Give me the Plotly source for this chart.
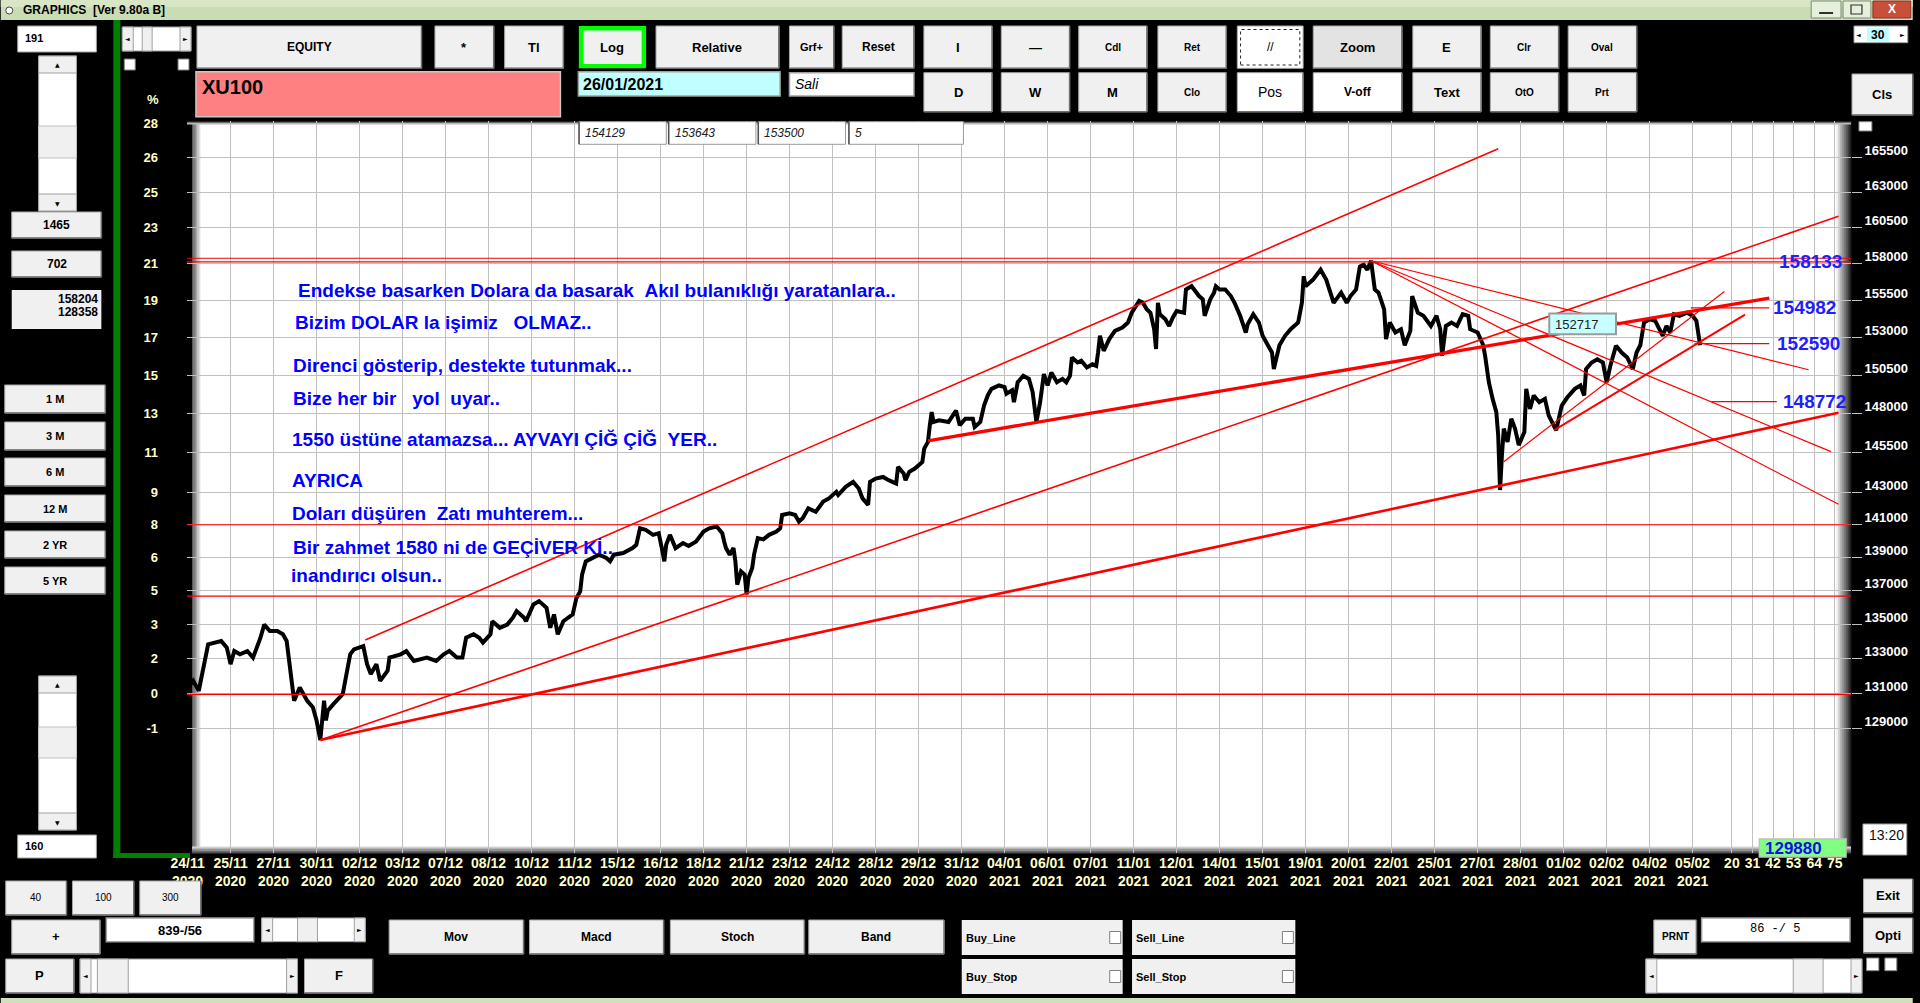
import math
import plotly.graph_objects as go

# ---------------- values ----------------
# bar index (23 bars between date labels) and XU100 price at that bar
PRICE_BAR = [0, 3, 6, 9, 11, 18, 21, 23, 25, 28, 32, 35, 39, 41, 44, 48, 51, 53, 55, 56,
             57, 60, 64, 67, 69, 71, 73, 74, 75, 78, 83, 85, 87, 89, 94, 96, 98, 101, 103, 107,
             108, 114, 117, 121, 124, 128, 133, 137, 140, 144, 147, 149, 153, 156, 158, 162, 163, 167, 171, 174,
             176, 180, 181, 185, 188, 192, 194, 196, 198, 201, 206, 208, 210, 211, 213, 217, 220, 224, 226, 228,
             233, 238, 240, 242, 245, 249, 252, 254, 255, 256, 258, 261, 265, 268, 272, 276, 279, 283, 286, 287,
             288, 290, 292, 293, 294, 296, 298, 299, 300, 302, 303, 305, 308, 311, 315, 317, 318, 322, 325, 327,
             329, 332, 336, 340, 343, 347, 348, 352, 356, 359, 361, 364, 365, 368, 372, 375, 379, 380, 383, 384,
             386, 389, 393, 394, 396, 397, 398, 399, 402, 407, 411, 413, 416, 420, 421, 424, 426, 428, 430, 434,
             437, 438, 441, 442, 444, 447, 450, 452, 453, 454, 456, 458, 460, 462, 465, 468, 470, 472, 473, 476,
             478, 481, 484, 486, 487, 488, 490, 493, 496, 500, 503, 505, 509, 511, 513, 515, 517, 518, 519, 520,
             523, 525, 527, 529, 533, 534, 537, 541, 543, 544, 547, 549, 550, 552, 555, 558, 560, 563, 566, 567,
             570, 573, 575, 578, 580, 581, 584, 587, 590, 594, 596, 597, 598, 602, 606, 609, 612, 613, 617, 620,
             622, 625, 627, 629, 631, 633, 635, 637, 640, 641, 643, 646, 649, 651, 654, 655, 658, 661, 665, 668,
             670, 671, 673, 676, 679, 682, 685, 686, 690, 693, 694, 696, 698, 700, 701, 702, 703, 704, 706, 708,
             710, 712, 715, 716, 718, 720, 723, 726, 728, 732, 735, 738, 742, 745, 747, 748, 751, 754, 757, 759,
             761, 764, 767, 770, 773, 775, 777, 779, 782, 785, 789, 791, 793, 795, 798, 802, 805, 807, 809]
PRICE_VAL = [131340, 131720, 131150, 132680, 133830, 134030, 133640, 132680, 133440, 133250,
             133440, 133060, 134220, 134990, 134610, 134610, 134420, 134030, 132490, 131530,
             130580, 131340, 130580, 130210, 129460, 128358, 130580, 129460, 130020, 130390,
             130960, 132110, 133250, 133540, 133730, 132680, 132110, 132680, 131720, 132300,
             133060, 133250, 133440, 132870, 132950, 133060, 132870, 133250, 133440, 133060,
             133060, 134220, 134420, 134220, 133930, 134420, 135190, 134800, 134990, 135400,
             135790, 135400, 135190, 136180, 136380, 135980, 134800, 135590, 134420, 135190,
             135590, 136570, 136960, 137960, 138760, 138970, 139170, 138970, 138770, 139170,
             139270, 139570, 139770, 140780, 140680, 140380, 140480, 139370, 138770, 139770,
             140380, 139570, 139880, 139700, 139970, 140580, 140780, 140890, 140480, 139970,
             139570, 139170, 139570, 138770, 137360, 138160, 137960, 136780, 137760, 138360,
             139170, 140180, 140100, 140380, 140580, 140780, 141600, 141700, 141600, 141190,
             141400, 142010, 141800, 142430, 142630, 143040, 142840, 143350, 143660, 143250,
             142630, 142230, 143660, 143870, 143970, 143770, 143560, 144600, 144190, 143770,
             144290, 144500, 144910, 145760, 146190, 147250, 148100, 147460, 147570, 147460,
             148200, 147250, 147670, 147670, 147140, 147460, 148520, 149180, 149610, 149830,
             149720, 149290, 149510, 148740, 150040, 150470, 150260, 149400, 148520, 147460,
             148740, 150580, 149830, 150680, 150040, 150260, 150040, 150470, 151670, 151340,
             151450, 151010, 151220, 151120, 152000, 153110, 152110, 152890, 153440, 153660,
             154000, 154660, 155460, 155330, 154890, 154660, 153550, 152230, 155330, 154560,
             154220, 153770, 154340, 154780, 154660, 156240, 156460, 155790, 155570, 154450,
             155570, 156020, 156460, 156240, 156240, 155790, 155330, 154450, 153330, 153880,
             154560, 154000, 153110, 152450, 152000, 150910, 152480, 153110, 153550, 154000,
             155330, 157140, 156460, 156910, 157590, 156910, 155790, 155330, 156020, 155330,
             155790, 156240, 157810, 157930, 157590, 158204, 156240, 156020, 154890, 152890,
             154000, 153330, 153550, 152480, 153440, 155790, 154660, 154450, 153770, 154450,
             153550, 151780, 153770, 154000, 153770, 154560, 154450, 153550, 153330, 152480,
             151780, 150040, 148960, 148100, 146610, 143150, 145340, 147040, 146190, 147670,
             147040, 145980, 146820, 149610, 148300, 149180, 148740, 148960, 147890, 146930,
             148520, 149060, 149610, 149830, 149180, 150910, 151340, 151550, 151340, 150040,
             151120, 152450, 152000, 151670, 150910, 152000, 152480, 154000, 154220, 154110,
             153110, 153770, 153330, 154560, 154450, 154660, 154450, 154110, 152480]

DATE_LABELS = ["24/11<br>2020", "25/11<br>2020", "27/11<br>2020", "30/11<br>2020", "02/12<br>2020",
               "03/12<br>2020", "07/12<br>2020", "08/12<br>2020", "10/12<br>2020", "11/12<br>2020",
               "15/12<br>2020", "16/12<br>2020", "18/12<br>2020", "21/12<br>2020", "23/12<br>2020",
               "24/12<br>2020", "28/12<br>2020", "29/12<br>2020", "31/12<br>2020", "04/01<br>2021",
               "06/01<br>2021", "07/01<br>2021", "11/01<br>2021", "12/01<br>2021", "14/01<br>2021",
               "15/01<br>2021", "19/01<br>2021", "20/01<br>2021", "22/01<br>2021", "25/01<br>2021",
               "27/01<br>2021", "28/01<br>2021", "01/02<br>2021", "02/02<br>2021", "04/02<br>2021",
               "05/02<br>2021"]
DATE_STEP = 23                      # bars between two date labels
FUTURE_LABELS = [20, 31, 42, 53, 64, 75]  # bars ahead of the current bar
FUTURE_BASE = 806

PRICE_TICKS = [165500, 163000, 160500, 158000, 155500, 153000, 150500, 148000, 145500,
               143000, 141000, 139000, 137000, 135000, 133000, 131000, 129000]
PCT_TICK_PRICES = [168000] + PRICE_TICKS
PCT_LABELS = ["28", "26", "25", "23", "21", "19", "17", "15", "13", "11", "9", "8", "6", "5",
              "3", "2", "0", "-1"]

# horizontal levels across the chart
LEVELS = [130940, 136680, 141000, 158133, 158380]
# trend lines: bar0, price0, bar1, price1
TRENDS = [
    (95, 134080, 701, 166130),
    (71, 128358, 883, 161300),
    (71, 128358, 883, 148060),
    (396, 146260, 846, 155650),
    (633, 158204, 867, 150860),
    (633, 158204, 879, 145570),
    (633, 158204, 883, 142260),
    (704, 144930, 822, 156100),
    (731, 146940, 833, 154530),
]
# short marked levels: price, from bar, to bar
MARKS = [(154982, 804, 846), (152590, 806, 846), (148772, 815, 850)]
# blue level labels: price, bar of the label's left edge
MARK_LABELS = [(158133, 850), (154982, 847), (152590, 849), (148772, 852)]

NOTES = ["Endekse basarken Dolara da basarak  Akıl bulanıklığı yaratanlara..",
         "Bizim DOLAR la işimiz   OLMAZ..",
         "Direnci gösterip, destekte tutunmak...",
         "Bize her bir   yol  uyar..",
         "1550 üstüne atamazsa... AYVAYI ÇİĞ ÇİĞ  YER..",
         "AYRICA",
         "Doları düşüren  Zatı muhterem...",
         "Bir zahmet 1580 ni de GEÇİVER Kİ..",
         "inandırıcı olsun.."]
TOP_BOXES = ["154129", "153643", "153500", "5"]
CURSOR_PRICE = "152717"

# ---------------- layout helpers (pixel -> paper) ----------------
W, H = 1920, 1003
PL, PR, PT, PB = 187, 1858, 121, 853
FONT = "Liberation Sans, Arial, sans-serif"
CREAM = "#ffffc8"


def px(x):
    return (x - PL) / (PR - PL)


def py(y):
    return (PB - y) / (PB - PT)


def nb(s):
    return s.replace("  ", " \u00a0")


shapes = []
annots = []


def rect(x0, y0, x1, y1, fill, line=None, lw=1, dash=None, layer="above"):
    shapes.append(dict(type="rect", xref="paper", yref="paper",
                       x0=px(x0), x1=px(x1), y0=py(y1), y1=py(y0),
                       fillcolor=fill, layer=layer,
                       line=dict(color=line if line else fill, width=lw if line else 0,
                                 dash=dash)))


def seg(x0, y0, x1, y1, color, lw=1):
    shapes.append(dict(type="line", xref="paper", yref="paper",
                       x0=px(x0), x1=px(x1), y0=py(y0), y1=py(y1),
                       line=dict(color=color, width=lw), layer="above"))


def text(x, y, s, size=12, color="black", weight="bold", anchor="center", style="normal", family=FONT):
    annots.append(dict(xref="paper", yref="paper", x=px(x), y=py(y), text=s, showarrow=False,
                       xanchor=anchor, yanchor="middle",
                       font=dict(family=family, size=size, color=color, weight=weight, style=style)))


def button(x0, y0, x1, y1, s="", fill="#f0f0f0", size=12, weight="bold", anchor="center"):
    rect(x0, y0, x1, y1, fill, "#a8a8a8", 1)
    seg(x0, y1, x1, y1, "#6e6e6e", 1.5)
    seg(x1, y0, x1, y1, "#6e6e6e", 1.5)
    if s:
        if anchor == "left":
            text(x0 + 3, (y0 + y1) / 2, s, size, weight=weight, anchor="left")
        else:
            text((x0 + x1) / 2, (y0 + y1) / 2, s, size, weight=weight)


def checkbox(x0, y0, x1, y1):
    rect(x0, y0, x1, y1, "white", "#808080", 1)


def hscroll(x0, y0, x1, y1, t0, t1):
    rect(x0, y0, x1, y1, "white", "#a0a0a0", 1)
    rect(x0, y0, x0 + 11, y1, "#f0f0f0", "#a0a0a0", 1)
    rect(x1 - 11, y0, x1, y1, "#f0f0f0", "#a0a0a0", 1)
    rect(t0, y0, t1, y1, "#f0f0f0", "#a0a0a0", 1)
    text(x0 + 5.5, (y0 + y1) / 2, "◄", 6, family="DejaVu Sans")
    text(x1 - 5.5, (y0 + y1) / 2, "►", 6, family="DejaVu Sans")


def vscroll(x0, y0, x1, y1, t0, t1):
    rect(x0, y0, x1, y1, "white", "#a0a0a0", 1)
    rect(x0, y0, x1, y0 + 17, "#f0f0f0", "#a0a0a0", 1)
    rect(x0, y1 - 17, x1, y1, "#f0f0f0", "#a0a0a0", 1)
    rect(x0, t0, x1, t1, "#f0f0f0", "#c0c0c0", 1)
    text((x0 + x1) / 2, y0 + 8, "▲", 6, family="DejaVu Sans")
    text((x0 + x1) / 2, y1 - 8, "▼", 6, family="DejaVu Sans")


def mix(c0, c1, t):
    a = [int(c0[i:i + 2], 16) for i in (1, 3, 5)]
    b = [int(c1[i:i + 2], 16) for i in (1, 3, 5)]
    return "#%02x%02x%02x" % tuple(round(a[k] + (b[k] - a[k]) * t) for k in range(3))


def gradient(x0, y0, x1, y1, c0, c1, n, along_x=True):
    for k in range(n):
        t = k / max(n - 1, 1)
        if along_x:
            a, b = x0 + (x1 - x0) * k / n, x0 + (x1 - x0) * (k + 1) / n
            rect(a, y0, b + 0.4, y1, mix(c0, c1, t), layer="between")
        else:
            a, b = y0 + (y1 - y0) * k / n, y0 + (y1 - y0) * (k + 1) / n
            rect(x0, a, x1, b + 0.4, mix(c0, c1, t), layer="between")


# ---------------- figure ----------------
fig = go.Figure()

fig.add_trace(go.Scatter(x=PRICE_BAR, y=PRICE_VAL, mode="lines",
                         line=dict(color="black", width=4), hoverinfo="skip"))

trend_widths = [1.6, 1.6, 2.6, 3.3, 1.2, 1.2, 1.2, 1.2, 2.0]
for (b0, p0, b1, p1), w in zip(TRENDS, trend_widths):
    fig.add_trace(go.Scatter(x=[b0, b1], y=[p0, p1], mode="lines",
                             line=dict(color="#ff0000", width=w), hoverinfo="skip"))

for lv in LEVELS:
    fig.add_trace(go.Scatter(x=[-0.3, 889.7], y=[lv, lv], mode="lines",
                             line=dict(color="#ff0000", width=1.2), hoverinfo="skip"))

for p, b0, b1 in MARKS:
    fig.add_trace(go.Scatter(x=[b0, b1], y=[p, p], mode="lines",
                             line=dict(color="#ff0000", width=1.3), hoverinfo="skip"))

# carrier for the left percent axis
fig.add_trace(go.Scatter(x=[PRICE_BAR[0]], y=[PRICE_VAL[0]], yaxis="y2", mode="markers",
                         marker=dict(opacity=0), hoverinfo="skip"))

for p, b in MARK_LABELS:
    annots.append(dict(xref="x", yref="y", x=b, y=math.log10(p), text=str(p), showarrow=False,
                       xanchor="left", yanchor="middle",
                       font=dict(family=FONT, size=19, color="#1e1eff", weight="bold")))

# inner shading of the chart frame
rect(187, 121, 192.5, 853, "#000000", layer="between")
gradient(192, 121, 200, 853, "#5a5a5a", "#dcdcdc", 6)
gradient(1843, 121, 1858, 853, "#f2f2f2", "#202020", 8)
gradient(192, 846.5, 1858, 853, "#d8d8d8", "#505050", 5, along_x=False)
gradient(187, 121, 1858, 124, "#202020", "#b8b8b8", 3, along_x=False)

# blue comments
note_pos = [(296, 290), (293, 322), (291, 365), (291, 398), (290.5, 439),
            (290, 480), (290, 513), (291.7, 547), (289.3, 575)]
for s, (x, y) in zip(NOTES, note_pos):
    text(x, y, nb(s), 19, "#0000ff", anchor="left")

# value boxes on top of the chart
box_x = [(580.7, 668.3), (670.7, 758.3), (760.7, 848.3), (851.7, 966.7)]
for s, (x0, x1) in zip(TOP_BOXES, box_x):
    rect(x0, 121.7, x1, 144.3, "white", "#9a9a9a", 1)
    seg(x0, 121.7, x0, 144.3, "#505050", 1.5)
    text(x0 + 4, 133, s, 12, "#202020", weight="normal", anchor="left", style="italic")

rect(1555, 313.5, 1622, 334.3, "#c8ffff", "#9a9a9a", 2)
text(1559, 324, CURSOR_PRICE, 13, "#202020", weight="normal", anchor="left")

# ---------------- application frame ----------------
rect(0, 0, 1920, 20, "#cadcb4")
rect(0, 0, 1920, 7, "#d8e6c6")
shapes.append(dict(type="circle", xref="paper", yref="paper", x0=px(5), x1=px(12),
                   y0=py(14), y1=py(7), fillcolor="white", line=dict(color="#404040", width=1)))
text(20, 10, "GRAPHICS \u00a0[Ver 9.80a B]", 12, anchor="left")
rect(1818, 1, 1848, 18, "#e6eedc", "#7a8a70", 1)
seg(1826, 13, 1840, 13, "#303030", 2)
rect(1850, 1, 1878, 18, "#e6eedc", "#7a8a70", 1)
rect(1858, 5, 1869, 14, "#e6eedc", "#303030", 1.2)
rect(1880, 1, 1918, 18, "#c8503a", "#8a3020", 1)
text(1899, 9.5, "X", 12, "white")
rect(0, 998, 1920, 1003, "#cfe0bb")

# green separator
rect(113, 20, 120, 858, "#008000")
rect(113, 853, 190, 858, "#008000")

# left column
rect(17, 26, 96, 52, "white", "#a0a0a0", 1)
text(22, 38, "191", 11, anchor="left")
vscroll(38, 56, 76, 211, 126, 158)
button(11, 212, 101, 238, "1465")
button(11, 251, 101, 277, "702")
rect(11, 290, 101, 329, "#f0f0f0")
text(100, 299, "158204", 12, anchor="right")
text(100, 312, "128358", 12, anchor="right")
for s, (y0, y1) in zip(["1 M", "3 M", "6 M", "12 M", "2 YR", "5 YR"],
                       [(385, 413), (422, 450), (458, 486), (495, 522), (531, 558), (567, 594)]):
    button(4, y0, 105, y1, s, size=11)
vscroll(38, 676, 76, 830, 727, 758)
rect(17, 835, 96, 858, "white", "#a0a0a0", 1)
text(22, 846, "160", 11, anchor="left")

# top toolbar
hscroll(122, 27, 191, 51, 142, 152)
checkbox(124, 59, 135, 70)
checkbox(178, 59, 189, 70)
text(152.7, 99.4, "%", 13, CREAM)

row1 = [("EQUITY", 197, 422.5, 12), ("*", 436, 495, 13), ("Tl", 506, 565, 13),
        ("Relative", 658, 781.4, 13), ("Grf+", 792, 836.5, 11), ("Reset", 845, 917, 12),
        ("I", 927, 995.5, 13), ("—", 1004.7, 1073.3, 13), ("Cdl", 1082.5, 1151, 10),
        ("Ret", 1162, 1230.7, 10), ("E", 1418, 1486.6, 13), ("Clr", 1495.8, 1564.4, 10),
        ("Oval", 1574, 1642.8, 10)]
for s, x0, x1, fs in row1:
    button(x0, 26, x1, 68.3, s, size=fs)
rect(580.5, 26, 648, 68.3, "#00ff00")
rect(585, 30.5, 643.5, 64, "#f0f0f0")
text(614, 47, "Log", 13)
rect(1241.7, 26, 1307.8, 68.3, "white", "#a8a8a8", 1)
rect(1245, 29.5, 1304.5, 65, "white", "#202020", 1, dash="dot")
text(1274.7, 47, "//", 12, weight="normal")
button(1318, 26, 1407, 68.3, "Zoom", fill="#e3e3e3", size=13)

row2 = [("D", 927, 995.5, 13, "bold"), ("W", 1004.7, 1073.3, 13, "bold"),
        ("M", 1082.5, 1151, 13, "bold"), ("Clo", 1162, 1230.7, 10, "bold"),
        ("Text", 1418, 1486.6, 13, "bold"), ("OtO", 1495.8, 1564.4, 10, "bold"),
        ("Prt", 1574, 1642.8, 10, "bold")]
for s, x0, x1, fs, wt in row2:
    button(x0, 72.7, x1, 111.7, s, size=fs, weight=wt)
button(1241.7, 72.7, 1307.8, 111.7, "Pos", fill="white", size=14, weight="normal")
button(1318, 72.7, 1407, 111.7, "V-off", fill="white", size=12)
button(1859, 74, 1920, 115, "Cls", size=13)

rect(196, 71.7, 562, 116.7, "#ff8080", "#c8c8c8", 1.5)
text(200, 87, "XU100", 20, anchor="left")
rect(580, 71.7, 782.6, 96, "#c0ffff", "#a0a0a0", 1.5)
text(583, 84, "26/01/2021", 16, anchor="left")
rect(792, 72.7, 917, 96, "white", "#a0a0a0", 1.5)
text(796, 84, "Sali", 14, weight="normal", anchor="left", style="italic")

rect(1861, 26, 1915, 42.7, "white", "#a0a0a0", 1)
rect(1874, 27.5, 1896, 41.5, "#c0ffff")
text(1885, 34.5, "30", 12)
text(1866, 34.5, "◄", 6, family="DejaVu Sans")
text(1910, 34.5, "►", 6, family="DejaVu Sans")
checkbox(1866, 121.7, 1879, 131)

# bottom controls
for s, x0, x1 in [("40", 5, 66), ("100", 72, 133.5), ("300", 139.6, 200.9)]:
    button(x0, 881, x1, 915, s, size=10, weight="normal")
button(11, 920, 99.8, 954, "+", size=13)
rect(106, 918, 254, 941.7, "white", "#a0a0a0", 1.5)
text(180, 930, "839-/56", 13)
hscroll(262, 918, 366, 941.7, 298, 318)
for s, x0, x1 in [("Mov", 390, 525), ("Macd", 531, 665.6), ("Stoch", 672.4, 807), ("Band", 811.4, 947.3)]:
    button(x0, 920, x1, 954, s, size=12)
button(5, 959, 73.5, 993, "P", size=13)
hscroll(79.6, 959, 298, 993, 97, 128)
button(305, 959, 373.5, 993, "F", size=13)
for s, x0, x1, y0, y1 in [("Buy_Line", 965, 1126.6, 920, 955), ("Sell_Line", 1136, 1300, 920, 955),
                          ("Buy_Stop", 965, 1126.6, 959, 994), ("Sell_Stop", 1136, 1300, 959, 994)]:
    rect(x0, y0, x1, y1, "#f0f0f0")
    text(x0 + 2, (y0 + y1) / 2, s, 11, anchor="left")
    checkbox(x1 - 13, (y0 + y1) / 2 - 6, x1 - 2, (y0 + y1) / 2 + 6)
button(1660, 920, 1702.8, 954, "PRNT", size=10)
rect(1708, 918, 1857, 941.7, "white", "#a0a0a0", 1.5)
text(1782, 929, "86 -/ 5", 12, weight="normal", family="Liberation Mono, monospace")
hscroll(1652, 959, 1869, 993, 1800, 1830)
button(1870.6, 879, 1920, 912.7, "Exit", size=13)
button(1870.6, 918, 1920, 953, "Opti", size=13)
checkbox(1873.6, 958, 1886, 970.7)
checkbox(1892, 958, 1904, 970.7)
rect(1766, 839, 1853, 857, "#80ff80", "#c0c0c0", 1.5)
text(1770, 848, "129880", 17, "#1010e0", anchor="left")
rect(1870, 824, 1914, 855, "white", "#a0a0a0", 1)
text(1874, 835, "13:20", 14, "#101010", weight="normal", anchor="left")

# ---------------- axes ----------------
tick_pos = [i * DATE_STEP for i in range(len(DATE_LABELS))] + [FUTURE_BASE + f for f in FUTURE_LABELS]
tick_txt = DATE_LABELS + [str(f) for f in FUTURE_LABELS]
yrange = [math.log10(122190), math.log10(168150)]

fig.update_layout(
    width=W, height=H, autosize=False,
    margin=dict(l=PL, r=W - PR, t=PT, b=H - PB, pad=0),
    paper_bgcolor="black", plot_bgcolor="white",
    showlegend=False, hovermode=False,
    xaxis=dict(range=[-0.3, 889.7], tickmode="array", tickvals=tick_pos, ticktext=tick_txt,
               showgrid=True, gridcolor="#c0c0c0", gridwidth=1, zeroline=False, showline=False,
               ticks="", tickangle=0, fixedrange=True,
               tickfont=dict(family=FONT, size=14, color=CREAM, weight="bold")),
    yaxis=dict(type="log", side="right", range=yrange, tickmode="array",
               tickvals=PRICE_TICKS, ticktext=[str(v) for v in PRICE_TICKS],
               showgrid=True, gridcolor="#c0c0c0", gridwidth=1, zeroline=False, showline=False,
               ticks="outside", ticklen=10, tickcolor="#c0c0c0", ticklabelshift=-7,
               fixedrange=True, tickfont=dict(family=FONT, size=13, color="white", weight="bold")),
    yaxis2=dict(type="log", side="left", overlaying="y", range=yrange, tickmode="array",
                tickvals=PCT_TICK_PRICES, ticktext=PCT_LABELS, showgrid=False, zeroline=False,
                showline=False, ticks="", ticklabelstandoff=28, fixedrange=True,
                tickfont=dict(family=FONT, size=13, color=CREAM, weight="bold")),
    shapes=shapes,
    annotations=annots,
)

fig.write_html("out.html", config={"displayModeBar": False},
               post_script="document.body.style.margin='0';document.body.style.overflow='hidden';")
